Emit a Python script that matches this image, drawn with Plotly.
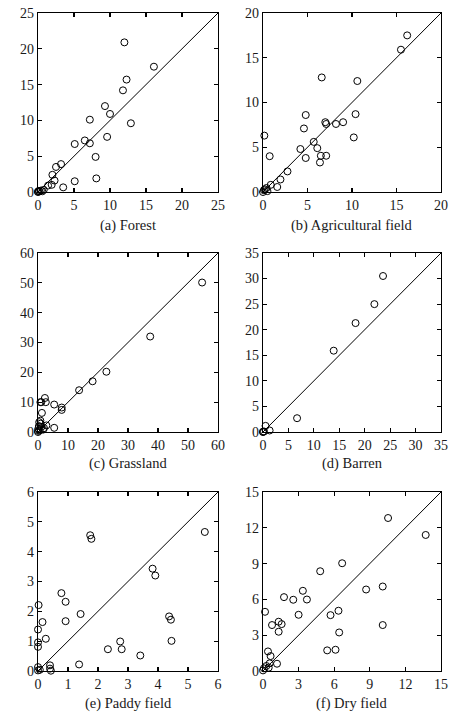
import plotly.graph_objects as go
from plotly.subplots import make_subplots

# ---------------- data ----------------
forest_x = [12.0, 16.1, 12.3, 11.8, 9.3, 10.0, 7.2, 12.9, 9.6, 6.5, 5.1, 7.2, 8.0, 8.1, 5.1, 3.5,
            3.2, 2.5, 2.0, 2.3, 1.9, 1.4, 0.8, 0.2, 0.0, 0.1, 0.6, 0.0, 0.4]
forest_y = [20.9, 17.5, 15.7, 14.2, 12.0, 10.9, 10.1, 9.6, 7.7, 7.2, 6.7, 6.8, 4.9, 1.9, 1.5, 0.65,
            3.9, 3.5, 2.4, 1.6, 1.0, 0.9, 0.3, 0.1, 0.0, 0.15, 0.1, 0.05, 0.2]

agri_x = [16.2, 15.5, 6.6, 10.6, 4.8, 10.4, 4.6, 7.0, 7.1, 8.2, 9.0, 10.2, 0.15, 4.2, 5.7, 6.1,
          0.75, 4.8, 6.5, 7.1, 6.4, 2.75, 1.96, 1.6, 0.87, 0.4, 0.1, 0.0, 0.2, 0.5]
agri_y = [17.5, 15.9, 12.8, 12.4, 8.6, 8.7, 7.1, 7.8, 7.6, 7.6, 7.8, 6.1, 6.3, 4.8, 5.6, 4.9,
          4.0, 3.8, 4.05, 4.05, 3.3, 2.3, 1.4, 0.56, 0.8, 0.45, 0.2, 0.0, 0.3, 0.1]

grass_x = [54.7, 37.4, 22.8, 18.2, 13.7, 7.9, 7.9, 5.4, 5.4, 2.3, 2.6, 0.8, 1.1, 1.3, 0.8, 2.8,
           2.0, 1.1, 0.3, 0.1, 0.0, 0.0, 0.5, 1.7, 0.4, 0.9]
grass_y = [50.1, 32.0, 20.2, 17.0, 14.0, 8.2, 7.4, 9.2, 1.4, 11.4, 10.0, 10.0, 10.0, 6.4, 3.8, 2.2,
           1.3, 1.7, 2.0, 1.1, 0.4, 0.0, 0.5, 0.8, 3.3, 2.8]

barren_x = [23.6, 21.9, 18.2, 13.9, 6.7, 1.3, 0.5, 0.0, 0.2, 0.0]
barren_y = [30.5, 25.0, 21.3, 15.9, 2.7, 0.3, 1.2, 0.0, 0.1, 0.05]

paddy_x = [5.56, 1.74, 1.78, 3.82, 3.91, 0.78, 0.92, 0.02, 1.42, 0.15, 0.92, 4.37, 4.43, 0.0,
           0.26, 0.0, 0.0, 4.45, 2.74, 2.33, 2.79, 3.41, 1.37, 0.40, 0.40, 0.43, 0.0, 0.0, 0.06]
paddy_y = [4.66, 4.55, 4.43, 3.43, 3.20, 2.61, 2.32, 2.21, 1.91, 1.64, 1.67, 1.83, 1.72, 1.39,
           1.08, 0.96, 0.81, 1.01, 0.99, 0.73, 0.73, 0.52, 0.22, 0.19, 0.08, 0.01, 0.13, 0.02, 0.04]

dry_x = [10.54, 13.71, 6.67, 4.82, 8.69, 10.09, 3.36, 1.77, 2.55, 3.70, 0.17, 3.0, 5.69, 6.36,
         1.32, 1.57, 0.76, 1.32, 10.09, 6.42, 5.41, 6.11, 0.42, 0.64, 1.18, 0.56, 0.28, 0.08, 0.0, 0.48]
dry_y = [12.82, 11.40, 9.03, 8.36, 6.83, 7.08, 6.72, 6.19, 5.97, 5.99, 4.96, 4.71, 4.68, 5.05,
         4.13, 3.93, 3.85, 3.29, 3.85, 3.23, 1.73, 1.78, 1.64, 1.25, 0.61, 0.64, 0.42, 0.22, 0.05, 0.28]

captions = ["(a) Forest", "(b) Agricultural field", "(c) Grassland",
            "(d) Barren", "(e) Paddy field", "(f) Dry field"]
axis_max = [25, 20, 60, 35, 6, 15]
axis_step = [5, 5, 10, 5, 1, 3]

panels = [(forest_x, forest_y), (agri_x, agri_y), (grass_x, grass_y),
          (barren_x, barren_y), (paddy_x, paddy_y), (dry_x, dry_y)]

# ---------------- figure ----------------
W, H = 452, 715
FONT = "Liberation Serif, Times New Roman, serif"

fig = make_subplots(rows=3, cols=2)

col_px = [(38, 218), (263, 441)]
row_px = [(13, 192), (253, 432), (492, 671)]
caption_y_px = [225, 463, 703]

for i, ((xs, ys), cap, mx, st) in enumerate(zip(panels, captions, axis_max, axis_step)):
    r, c = i // 2, i % 2
    # 1:1 line
    fig.add_trace(go.Scatter(x=[0, mx], y=[0, mx], mode="lines",
                             line=dict(color="black", width=1), hoverinfo="skip",
                             showlegend=False), row=r + 1, col=c + 1)
    fig.add_trace(go.Scatter(x=xs, y=ys, mode="markers", cliponaxis=False,
                             marker=dict(symbol="circle-open", size=7,
                                         color="black", line=dict(width=1, color="black")),
                             showlegend=False), row=r + 1, col=c + 1)
    x0, x1 = col_px[c]
    y0, y1 = row_px[r]
    axn = "" if i == 0 else str(i + 1)
    common = dict(range=[0, mx], dtick=st, tick0=0, showgrid=False, zeroline=False,
                  showline=True, linecolor="black", linewidth=1.2, mirror="ticks",
                  ticks="inside", ticklen=4, tickcolor="black", tickwidth=1.2,
                  automargin=False,
                  tickfont=dict(family=FONT, size=14, color="#1a1a1a"))
    fig.layout["xaxis" + axn].update(domain=[x0 / W, x1 / W], **common)
    fig.layout["yaxis" + axn].update(domain=[1 - y1 / H, 1 - y0 / H], **common)
    fig.add_annotation(x=(x0 + x1) / 2 / W, y=1 - caption_y_px[r] / H, xref="paper",
                       yref="paper", text=cap, showarrow=False,
                       font=dict(family=FONT, size=14.5, color="#1a1a1a"),
                       xanchor="center", yanchor="middle")

fig.update_layout(template="none", width=W, height=H,
                  margin=dict(l=0, r=0, t=0, b=0, autoexpand=False),
                  paper_bgcolor="white", plot_bgcolor="white", showlegend=False)

fig.write_html("out.html",
               config={"displayModeBar": False, "staticPlot": True},
               post_script="document.body.style.margin='0';"
                           "document.body.style.overflow='hidden';")
